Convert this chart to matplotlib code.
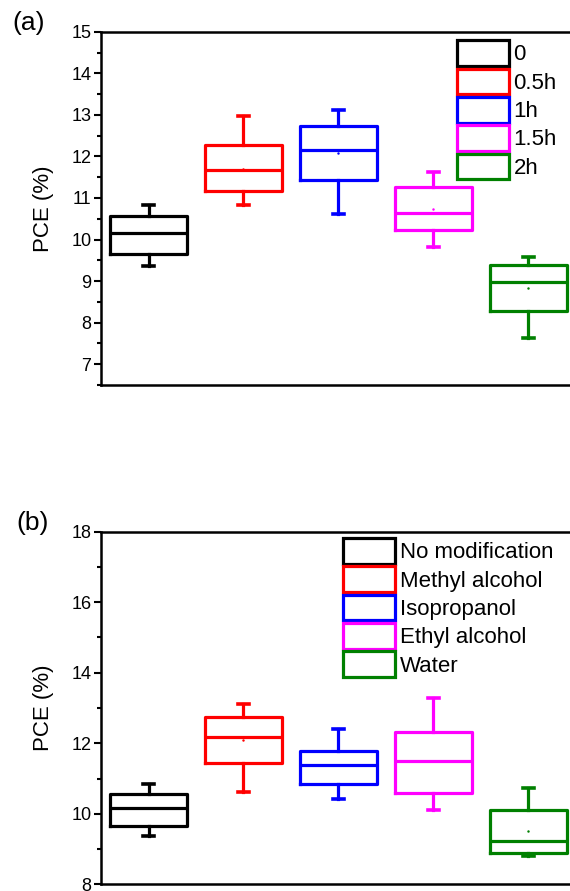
import matplotlib.pyplot as plt
from matplotlib.patches import Rectangle
from matplotlib.ticker import MultipleLocator

plt.rcParams['font.family'] = ['Liberation Sans', 'DejaVu Sans']

colors = ['black', 'red', 'blue', 'magenta', 'green']

# panel (a): annealing time
labels_a = ['0', '0.5h', '1h', '1.5h', '2h']
whislo_a = [9.36, 10.84, 10.61, 9.81, 7.62]
q1_a = [9.64, 11.17, 11.44, 10.24, 8.28]
med_a = [10.16, 11.68, 12.16, 10.65, 8.98]
mean_a = [10.16, 11.70, 12.09, 10.74, 8.84]
q3_a = [10.56, 12.28, 12.74, 11.27, 9.38]
whishi_a = [10.82, 12.98, 13.11, 11.63, 9.58]

# panel (b): solvent
labels_b = ['No modification', 'Methyl alcohol', 'Isopropanol', 'Ethyl alcohol', 'Water']
whislo_b = [9.37, 10.63, 10.41, 10.11, 8.80]
q1_b = [9.65, 11.45, 10.84, 10.60, 8.90]
med_b = [10.16, 12.18, 11.38, 11.50, 9.24]
mean_b = [10.16, 12.09, 11.38, 11.50, 9.51]
q3_b = [10.57, 12.75, 11.77, 12.31, 10.12]
whishi_b = [10.84, 13.10, 12.40, 13.27, 10.74]


def draw_panel(ax, labels, whislo, q1, med, mean, q3, whishi, leg_anchor):
    for i in range(len(labels)):
        st = [dict(whislo=whislo[i], q1=q1[i], med=med[i], mean=mean[i],
                   q3=q3[i], whishi=whishi[i], fliers=[])]
        c = colors[i]
        ax.bxp(st, positions=[i + 1], widths=0.81, capwidths=0.12,
               showmeans=True, showfliers=False,
               boxprops=dict(color=c, linewidth=2.3),
               medianprops=dict(color=c, linewidth=2.3),
               whiskerprops=dict(color=c, linewidth=2.3),
               capprops=dict(color=c, linewidth=2.6),
               meanprops=dict(marker='.', markersize=1.5, markerfacecolor=c,
                              markeredgecolor=c))
    handles = [Rectangle((0, 0), 1, 1, facecolor='none', edgecolor=c, linewidth=2.3)
               for c in colors]
    ax.legend(handles, labels, loc='upper left', bbox_to_anchor=leg_anchor,
              frameon=False, fontsize=16, handlelength=2.35, handleheight=1.4,
              labelspacing=0.12, handletextpad=0.2, borderaxespad=0, borderpad=0)
    ax.set_xlim(0.5, 5.5)
    ax.set_xticks([])
    ax.set_ylabel('PCE (%)', fontsize=16)
    ax.yaxis.set_label_coords(-0.10, 0.5)
    ax.tick_params(axis='y', which='major', length=5, width=1.5, labelsize=13, pad=2)
    ax.tick_params(axis='y', which='minor', length=3, width=1.5)
    for s in ax.spines.values():
        s.set_linewidth(1.8)


fig = plt.figure(figsize=(5.7, 8.91), dpi=100)

ax1 = fig.add_axes([0.1772, 0.5679, 0.8333, 0.3965])
draw_panel(ax1, labels_a, whislo_a, q1_a, med_a, mean_a, q3_a, whishi_a, (0.749, 0.976))
ax1.set_ylim(6.5, 15)
ax1.set_yticks([7, 8, 9, 10, 11, 12, 13, 14, 15])
ax1.yaxis.set_minor_locator(MultipleLocator(0.5))

ax2 = fig.add_axes([0.1772, 0.0075, 0.8333, 0.3958])
draw_panel(ax2, labels_b, whislo_b, q1_b, med_b, mean_b, q3_b, whishi_b, (0.510, 0.982))
ax2.set_ylim(8, 18)
ax2.set_yticks([8, 10, 12, 14, 16, 18])
ax2.yaxis.set_minor_locator(MultipleLocator(1))

fig.text(12 / 570, 1 - 23 / 891, '(a)', fontsize=19, va='center', ha='left')
fig.text(16 / 570, 1 - 523 / 891, '(b)', fontsize=19, va='center', ha='left')

fig.savefig('out.png', dpi=100)
